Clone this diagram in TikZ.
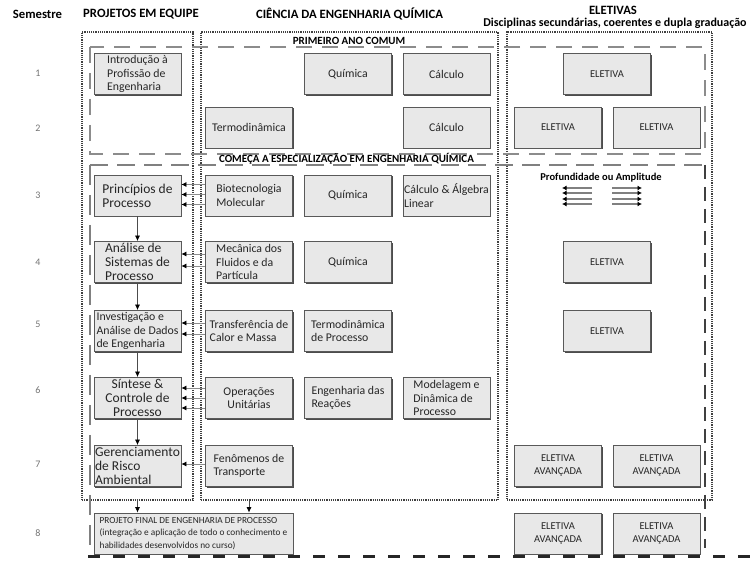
\documentclass[tikz,border=0pt]{standalone}
\usepackage{fontspec}
\setmainfont{Carlito}
\usetikzlibrary{arrows.meta,shadows}
\begin{document}
\begin{tikzpicture}[x=1pt,y=-1pt,
  box/.style={draw=black!65, line width=0.8pt, fill=black!9, minimum width=87pt, minimum height=41pt,
    inner sep=1pt, align=left, font=\fontsize{11.8}{13.3}\selectfont, text=black!85,
    general shadow={shadow xshift=1.2pt, shadow yshift=-1.2pt, fill=black!70}},
  elbox/.style={box, align=center, font=\fontsize{10.5}{13}\selectfont},
  bigtxt/.style={font=\fontsize{13.5}{14}\selectfont, inner sep=0pt},
  smalltxt/.style={font=\fontsize{9.3}{12.5}\selectfont},
  hdr/.style={font=\bfseries\fontsize{12.7}{14}\selectfont, inner sep=0pt},
  sublbl/.style={font=\bfseries\fontsize{11}{12}\selectfont, inner sep=0pt},
  sem/.style={font=\fontsize{10}{12}\selectfont, text=black!55},
  colbox/.style={draw=black!75, densely dotted, line width=1.2pt, inner sep=0pt},
  arr/.style={draw=black!45, line width=0.7pt, -{Latex[length=5pt,width=5pt,color=black]}},
  varr/.style={draw=black!70, line width=0.7pt, -{Latex[length=5.5pt,width=5pt,color=black]}},
  iconarr/.style={draw=black!50, line width=1.3pt, -{Latex[length=4.5pt,width=5pt,color=black]}},
  ]
\useasboundingbox (0,0) rectangle (756,569);

% headers
\node[hdr] (hsem) at (37.5,14) {Semestre};
\node[hdr] (hproj) at (141,14) {PROJETOS EM EQUIPE};
\node[hdr] (hcie) at (349.5,14) {CIÊNCIA DA ENGENHARIA QUÍMICA};
\node[hdr] (hel) at (613,10) {ELETIVAS};
\node[hdr, font=\bfseries\fontsize{12}{14}\selectfont] (hdis) at (615,23) {Disciplinas secundárias, coerentes e dupla graduação};

% semester numbers
\node[sem] (s1) at (38,73) {1};
\node[sem] (s2) at (38,128) {2};
\node[sem] (s3) at (38,195) {3};
\node[sem] (s4) at (38,262) {4};
\node[sem] (s5) at (38,324) {5};
\node[sem] (s6) at (38,390) {6};
\node[sem] (s7) at (38,464) {7};
\node[sem] (s8) at (38,533) {8};

% column dotted boxes
\node[colbox, minimum width=111pt, minimum height=468pt] (projcol) at (137.5,266) {};
\node[colbox, minimum width=297pt, minimum height=468pt] (scicol) at (349.5,266) {};
\node[colbox, minimum width=205pt, minimum height=468pt] (elcol) at (609.5,266) {};

% dashed phase boxes
\draw[black!45, line width=1.8pt, dash pattern=on 16pt off 10pt] (90,47) rectangle (705,154);
\draw[black!50, line width=2.8pt, dash pattern=on 18pt off 9pt] (90,165) -- (705,165);
\draw[black!50, line width=1.5pt, dash pattern=on 20pt off 10pt] (90,165) -- (90,557);
\draw[black!75, line width=1.5pt, dash pattern=on 14pt off 8pt] (705,165) -- (705,548);
\draw[black!85, line width=3pt, dash pattern=on 12pt off 13pt] (88,557) -- (752,557);

\node[sublbl] (pac) at (349,41) {PRIMEIRO ANO COMUM};
\node[sublbl] (esp) at (346.5,159) {COMEÇA A ESPECIALIZAÇÃO EM ENGENHARIA QUÍMICA};

% depth / breadth icon
\node[sublbl, font=\bfseries\fontsize{10.5}{12}\selectfont] (prof) at (601,178) {Profundidade ou Amplitude};
\foreach \yy in {188,193,199,204} {
  \draw[iconarr] (592,\yy) -- (562,\yy);
  \draw[iconarr] (612,\yy) -- (642,\yy);
}

% row 1
\node[box] (intro) at (137.5,74) {Introdução à\\Profissão de\\Engenharia};
\node[box] (qui1) at (348,74) {Química};
\node[box] (cal1) at (446.5,74) {Cálculo};
\node[elbox] (el1) at (607,74) {ELETIVA};
% row 2
\node[box] (termo) at (249,127.5) {Termodinâmica};
\node[box] (cal2) at (446.5,127.5) {Cálculo};
\node[elbox] (el2a) at (558,127.5) {ELETIVA};
\node[elbox] (el2b) at (656.5,127.5) {ELETIVA};
% row 3
\node[box, bigtxt] (pri) at (137.5,195.5) {Princípios de\\Processo};
\node[box] (bio) at (249,195.5) {Biotecnologia\\Molecular};
\node[box] (qui3) at (348,195.5) {Química};
\node[box] (calg) at (446.5,195.5) {Cálculo \& Álgebra\\Linear};
% row 4
\node[box, bigtxt] (ana) at (137.5,262) {Análise de\\Sistemas de\\Processo};
\node[box] (mec) at (249,262) {Mecânica dos\\Fluidos e da\\Partícula};
\node[box] (qui4) at (348,262) {Química};
\node[elbox] (el4) at (607,262) {ELETIVA};
% row 5
\node[box] (inv) at (137.5,331) {Investigação e\\Análise de Dados\\de Engenharia};
\node[box] (tra) at (249,331) {Transferência de\\Calor e Massa};
\node[box] (tdp) at (348,331) {Termodinâmica\\de Processo};
\node[elbox] (el5) at (607,331) {ELETIVA};
% row 6
\node[box, bigtxt, align=center] (sin) at (137.5,398) {Síntese \&\\Controle de\\Processo};
\node[box, align=center] (ope) at (249,398) {Operações\\Unitárias};
\node[box] (rea) at (348,398) {Engenharia das\\Reações};
\node[box] (mod) at (446.5,398) {Modelagem e\\Dinâmica de\\Processo};
% row 7
\node[box, bigtxt] (ger) at (137.5,466) {Gerenciamento\\de Risco\\Ambiental};
\node[box] (fen) at (249,466) {Fenômenos de\\Transporte};
\node[elbox] (ea7a) at (558,466) {ELETIVA\\AVANÇADA};
\node[elbox] (ea7b) at (656.5,466) {ELETIVA\\AVANÇADA};
% row 8
\node[box, smalltxt, minimum width=199pt] (final) at (193.5,533.5) {PROJETO FINAL DE ENGENHARIA DE PROCESSO\\(integração e aplicação de todo o conhecimento e\\habilidades desenvolvidos no curso)};
\node[elbox] (ea8a) at (558,533.5) {ELETIVA\\AVANÇADA};
\node[elbox] (ea8b) at (656.5,533.5) {ELETIVA\\AVANÇADA};

% horizontal feeds
\foreach \s in {11,1,-9} \draw[arr] ([yshift=\s pt]bio.west) -- ([yshift=\s pt]pri.east);
\foreach \s in {8,-4} \draw[arr] ([yshift=\s pt]mec.west) -- ([yshift=\s pt]ana.east);
\foreach \s in {8,-3} \draw[arr] ([yshift=\s pt]tra.west) -- ([yshift=\s pt]inv.east);
\foreach \s in {10,0,-10} \draw[arr] ([yshift=\s pt]ope.west) -- ([yshift=\s pt]sin.east);
\draw[arr] ([yshift=2pt]fen.west) -- ([yshift=2pt]ger.east);

% vertical project chain
\draw[varr] (pri) -- (ana);
\draw[varr] (ana) -- (inv);
\draw[varr] (inv) -- (sin);
\draw[varr] (sin) -- (ger);
\draw[varr] (projcol.south -| ger.south) -- (final.north -| ger.south);
\draw[varr] (scicol.south -| fen.south) -- (final.north -| fen.south);
\end{tikzpicture}
\end{document}
